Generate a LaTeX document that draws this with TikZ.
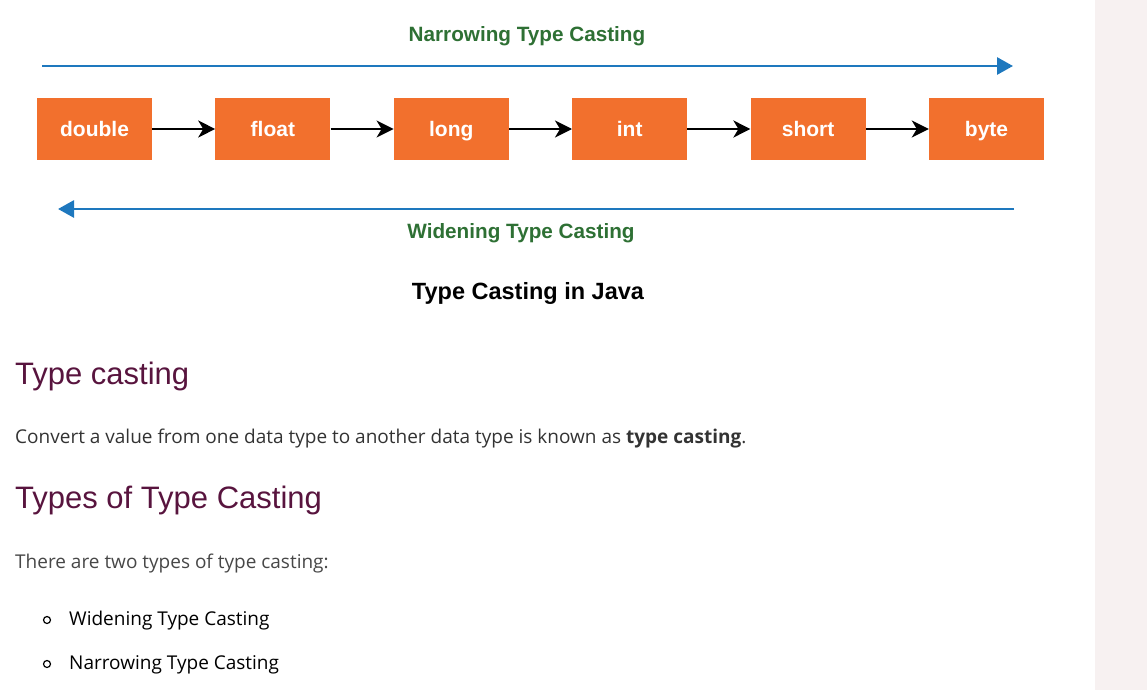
\documentclass[tikz,border=0pt]{standalone}
\usepackage{fontspec}
\setmainfont{Liberation Sans}
\newfontfamily\pagefont{Open Sans}
\usetikzlibrary{arrows.meta, positioning}
\definecolor{castorange}{RGB}{242, 112, 45}
\definecolor{castblue}{RGB}{30, 120, 190}
\definecolor{castgreen}{RGB}{46, 112, 52}
\definecolor{headpurple}{RGB}{88, 20, 62}
\definecolor{bodygray}{RGB}{51, 51, 51}
\definecolor{sidegray}{RGB}{247, 241, 241}

\tikzset{
    typebox/.style={fill=castorange, text=white, minimum width=115pt, minimum height=62pt,
        inner sep=0pt, text height=14pt, text depth=0pt, font=\fontsize{21}{24}\selectfont\bfseries},
    steparrow/.style={black, line width=2.3pt, -{Stealth[length=17pt, width=17pt, inset=5pt]}},
    castarrow/.style={castblue, line width=2.8pt, -{Triangle[length=16pt, width=17pt]}},
    castlabel/.style={inner sep=0pt, anchor=base, text=castgreen, font=\fontsize{20.7}{24}\selectfont\bfseries},
    pagehead/.style={inner sep=0pt, anchor=base west, text=headpurple, font=\fontsize{31}{36}\selectfont},
    pagetext/.style={inner sep=0pt, anchor=base west, font=\pagefont\fontsize{19}{23}\selectfont}
}

\begin{document}
\begin{tikzpicture}[x=1pt, y=-1pt]
    \useasboundingbox (0,0) rectangle (1147,690);
    \fill[sidegray] (1095,0) rectangle (1147,690);

    % type chain
    \node[typebox] (double) at (94.5,129) {double};
    \node[typebox, right=63pt of double] (float) {float};
    \node[typebox, right=63pt of float] (long) {long};
    \node[typebox, right=63pt of long] (int) {int};
    \node[typebox, right=63pt of int] (short) {short};
    \node[typebox, right=63pt of short] (byte) {byte};
    \foreach \a/\b in {double/float, float/long, long/int, int/short, short/byte}
        \draw[steparrow] (\a) -- (\b);

    % direction arrows
    \coordinate (narrowstart) at (42,66);
    \coordinate (narrowend) at (1013,66);
    \coordinate (widestart) at (1014,209);
    \coordinate (wideend) at (58,209);
    \draw[castarrow] (narrowstart) -- (narrowend);
    \draw[castarrow] (widestart) -- (wideend);
    \node[castlabel] (narrowlabel) at (527,41.5) {Narrowing Type Casting};
    \node[castlabel] (widelabel) at (521,238) {Widening Type Casting};
    \node[inner sep=0pt, anchor=base, font=\fontsize{23.5}{28}\selectfont\bfseries] (caption) at (528,299) {Type Casting in Java};

    % page text
    \node[pagehead] (castinghead) at (15,384) {Type casting};
    \node[pagetext, text=bodygray] (castingtext) at (15,443) {Convert a value from one data type to another data type is known as \textbf{type casting}.};
    \node[pagehead] (typeshead) at (15,508) {Types of Type Casting};
    \node[pagetext, text=bodygray!90] (typestext) at (15,568) {There are two types of type casting:};
    \draw[black, line width=1.2pt] (47,620) circle (3.5pt);
    \node[pagetext] (widenitem) at (69,625) {Widening Type Casting};
    \draw[black, line width=1.2pt] (47,664) circle (3.5pt);
    \node[pagetext] (narrowitem) at (69,669) {Narrowing Type Casting};
\end{tikzpicture}
\end{document}
